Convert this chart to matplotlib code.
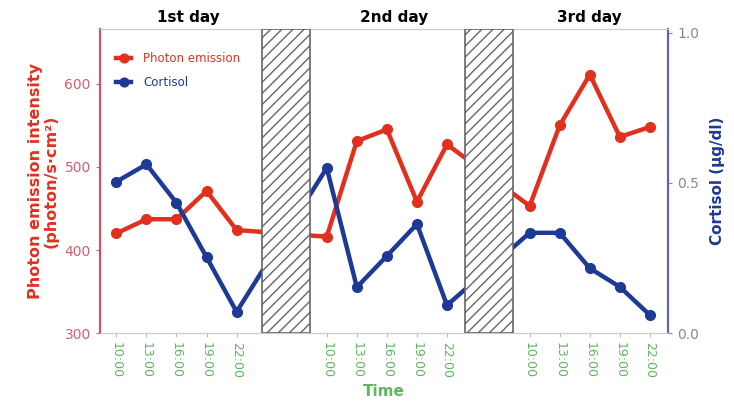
import matplotlib
matplotlib.use("Agg")
from matplotlib import pyplot as plt
import numpy as np

# data
times = ["10:00", "13:00", "16:00", "19:00", "22:00"]
days = ["1st day", "2nd day", "3rd day"]
photon = [420, 437, 437, 471, 424,
          416, 531, 545, 458, 527,
          453, 550, 611, 536, 548]
cortisol = [0.504, 0.562, 0.434, 0.253, 0.071,
            0.550, 0.153, 0.257, 0.363, 0.093,
            0.334, 0.334, 0.216, 0.154, 0.060]

# layout: where each day starts on the x axis, the night gaps, day title spots
day_start = [0, 7.0, 13.75]
nights = [(4.85, 6.45), (11.6, 13.2)]
title_x = [2.4, 9.25, 15.75]

red = "#e2301f"
blue = "#1d3a94"
green = "#5cb85c"

plt.rcParams["hatch.linewidth"] = 1.0

x = np.concatenate([s + np.arange(len(times)) for s in day_start])
labels = times * len(days)

fig = plt.figure(figsize=(7.34, 4.18), dpi=100)
ax = fig.add_axes([0.136, 0.203, 0.774, 0.728])
ax2 = ax.twinx()

l1, = ax.plot(x, photon, color=red, lw=3.2, marker="o", ms=7, label="Photon emission", zorder=2)
l2, = ax2.plot(x, cortisol, color=blue, lw=3.2, marker="o", ms=7, label="Cortisol", zorder=2)

for a, b in nights:
    ax2.axvspan(a, b, facecolor="white", edgecolor="#666666", hatch="///", lw=1.2, zorder=3)

ax.set_xlim(-0.55, 18.35)
ax.set_ylim(300, 666)
ax2.set_ylim(0, 1.013)

ax.set_xticks(x)
ax.set_xticklabels(labels, rotation=270, color=green, fontsize=9)
ax.set_yticks([300, 400, 500, 600])
ax.tick_params(axis="y", colors="#d0606e", labelsize=10, length=3)
ax.tick_params(axis="x", length=3, color="#bbbbbb")
ax2.set_yticks([0.0, 0.5, 1.0])
ax2.set_yticklabels(["0.0", "0.5", "1.0"], color="#888888", fontsize=10)
ax2.tick_params(axis="y", length=3, color="#888888")

for a in (ax, ax2):
    a.spines["top"].set_color("#cccccc")
    a.spines["bottom"].set_color("#cccccc")
    a.spines["left"].set_color("#d0505e")
    a.spines["right"].set_color("#5a64c0")
    a.spines["left"].set_linewidth(1.5)
    a.spines["right"].set_linewidth(1.5)

ax.set_ylabel("Photon emission intensity\n(photon/s\u00b7cm\u00b2)", color=red,
              fontsize=11.5, fontweight="bold", labelpad=4, linespacing=1.05)
ax2.set_ylabel("Cortisol (\u03bcg/dl)", color=blue, fontsize=11, fontweight="bold", labelpad=8)
ax.set_xlabel("Time", color=green, fontsize=11, fontweight="bold", labelpad=4)

for tx, name in zip(title_x, days):
    ax.text(tx, 1.012, name, transform=ax.get_xaxis_transform(), ha="center", va="bottom",
            fontsize=11, fontweight="bold")

leg = ax2.legend(handles=[l1, l2], loc="upper left", bbox_to_anchor=(0.01, 0.96), frameon=False,
                 fontsize=8.5, handlelength=1.3, handletextpad=1.0, labelspacing=1.0,
                 markerscale=0.9)
for txt, c in zip(leg.get_texts(), [red, blue]):
    txt.set_color(c)

fig.savefig("out.png", dpi=100)
